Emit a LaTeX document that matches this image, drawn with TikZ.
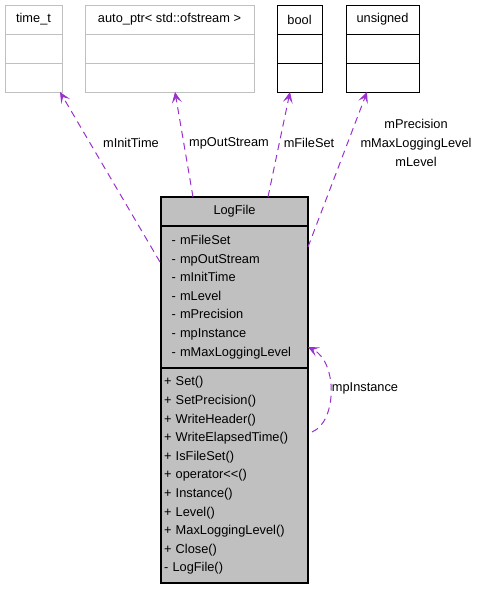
\documentclass[tikz,border=0pt]{standalone}
\usepackage{fontspec}
\setmainfont{Liberation Sans}
\usetikzlibrary{positioning,arrows.meta}
\definecolor{usegray}{HTML}{C0C0C0}
\definecolor{usepurple}{HTML}{9A32CD}
\tikzset{>={Stealth[length=11pt,width=10pt,inset=5pt]}}
\tikzset{
  every node/.style={font=\fontsize{12.8}{18.6}\selectfont},
  extbox/.style={draw=usegray, line width=1pt, outer sep=0pt, inner sep=0pt,
    minimum height=29pt},
  typebox/.style={draw=black, line width=1pt, outer sep=0pt, inner sep=0pt,
    minimum height=29pt},
  classbox/.style={draw=black, fill=usegray, line width=1.2pt, outer sep=0pt,
    inner sep=0pt, minimum width=147pt},
  classlist/.style={classbox, align=left, inner ysep=0pt},
  uses/.style={->, usepurple, line width=1pt, dash pattern=on 7pt off 5pt}
}

\begin{document}
\begin{tikzpicture}[x=1pt,y=-1pt]
      \useasboundingbox (0,0) rectangle (477,589);

      % used types
      \node [extbox,
        minimum width=57pt
      ] (timet) at (33.5,19.5) {time\_t};
      \node [extbox,
        minimum width=57pt,
        below=0pt of timet
      ] (timetattr) {};
      \node [extbox,
        minimum width=57pt,
        below=0pt of timetattr
      ] (timetops) {};

      \node [extbox,
        minimum width=169pt
      ] (autoptr) at (169.5,19.5) {auto\_ptr< std::ofstream >};
      \node [extbox,
        minimum width=169pt,
        below=0pt of autoptr
      ] (autoptrattr) {};
      \node [extbox,
        minimum width=169pt,
        below=0pt of autoptrattr
      ] (autoptrops) {};

      \node [typebox,
        minimum width=45pt
      ] (bool) at (299.5,19.5) {bool};
      \node [typebox,
        minimum width=45pt,
        below=0pt of bool
      ] (boolattr) {};
      \node [typebox,
        minimum width=45pt,
        below=0pt of boolattr
      ] (boolops) {};

      \node [typebox,
        minimum width=73pt
      ] (unsigned) at (382.5,19.5) {unsigned};
      \node [typebox,
        minimum width=73pt,
        below=0pt of unsigned
      ] (unsignedattr) {};
      \node [typebox,
        minimum width=73pt,
        below=0pt of unsignedattr
      ] (unsignedops) {};

      % the class itself
      \node [classbox,
        minimum height=29pt
      ] (logfile) at (234.5,211.5) {LogFile};
      \node [classlist,
        text width=126pt,
        inner xsep=10.5pt,
        minimum height=142pt,
        below=0pt of logfile
      ] (logattr) {- mFileSet\\- mpOutStream\\- mInitTime\\- mLevel\\
        - mPrecision\\- mpInstance\\- mMaxLoggingLevel};
      \node [classlist,
        text width=141pt,
        inner xsep=3pt,
        minimum height=215pt,
        below=0pt of logattr
      ] (logops) {+ Set()\\+ SetPrecision()\\+ WriteHeader()\\
        + WriteElapsedTime()\\+ IsFileSet()\\+ operator<{}<()\\+ Instance()\\
        + Level()\\+ MaxLoggingLevel()\\+ Close()\\- LogFile()};

      % member labels
      \node (linit) at (131,143) {mInitTime};
      \node (lout) at (229,143) {mpOutStream};
      \node (lfile) at (309,143) {mFileSet};
      \node [align=center] (lunsigned) at (416,143)
        {mPrecision\\mMaxLoggingLevel\\mLevel};
      \node (linst) at (365,388) {mpInstance};

      \draw[uses] ([xshift=-1pt,yshift=35pt]logattr.west)
        -- ([xshift=-2pt]timetops.south east);
      \draw[uses] ([xshift=-41.5pt]logfile.north) -- ([xshift=5.5pt]autoptrops.south);
      \draw[uses] ([xshift=33.5pt]logfile.north) -- ([xshift=-9.5pt]boolops.south);
      \draw[uses] ([yshift=50pt]logattr.east) -- ([xshift=-15.5pt]unsignedops.south);
      \draw[uses] ([xshift=4pt,yshift=43.5pt]logops.east)
        .. controls +(25,-10) and +(30,15) .. ([yshift=-50pt]logattr.east);
    \end{tikzpicture}
\end{document}
